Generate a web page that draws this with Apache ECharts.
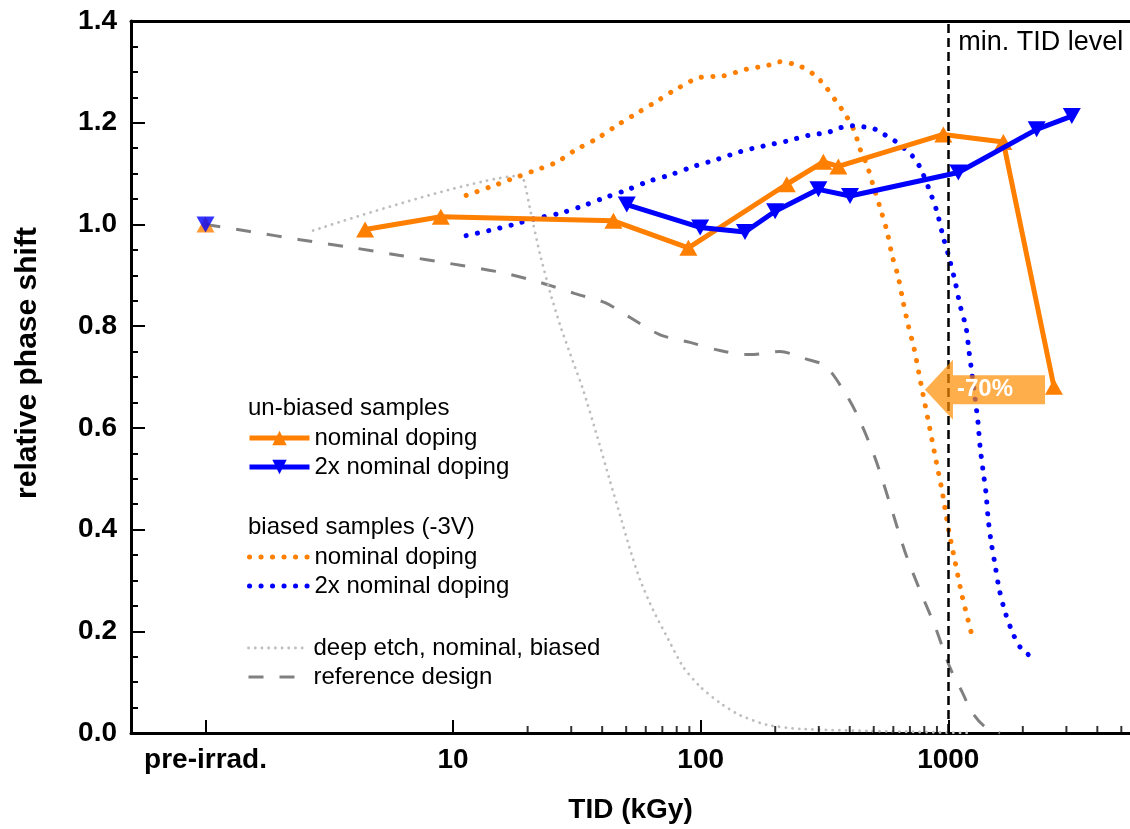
<!DOCTYPE html>
<html>
<head>
<meta charset="utf-8">
<script src="https://cdn.jsdelivr.net/npm/echarts@6/dist/echarts.min.js"></script>
<style>
  html, body { margin: 0; padding: 0; background: #fff; }
  #chart { width: 1130px; height: 829px; }
</style>
</head>
<body>
<div id="chart"></div>
<script>
// ---------------- data ----------------
const preIrradTID = 1; // position of the "pre-irrad." category on the log axis
const xTickValues = [1, 10, 100, 1000];
const xTickLabels = ['pre-irrad.', '10', '100', '1000'];
const xMinorTicks = [20, 30, 40, 50, 60, 70, 80, 90, 200, 300, 400, 500, 600, 700, 800, 900, 2000, 3000, 4000, 5000];

// un-biased samples, nominal doping (orange, up triangles)
const preIrradNominal = 1.0;
const unbiasedNominalX = [4.41, 8.92, 44.4, 89.2, 222.7, 313, 359.7, 955, 1669, 2672];
const unbiasedNominalY = [0.990, 1.015, 1.007, 0.954, 1.079, 1.123, 1.114, 1.177, 1.162, 0.681];

// un-biased samples, 2x nominal doping (blue, down triangles)
const preIrrad2x = 1.0;
const unbiased2xX = [50.3, 99.5, 151, 199.8, 298.9, 401, 1098, 2275, 3154];
const unbiased2xY = [1.039, 0.994, 0.985, 1.026, 1.069, 1.056, 1.102, 1.187, 1.213];

// biased samples (-3V), nominal doping (orange dotted)
const biasedNominalX = [11.29, 13.98, 17.15, 21.04, 26.06, 31.1, 38.15, 45.96, 55.87, 67.3, 81.0, 99.4, 123.1, 152.5, 187.2, 207.4, 252, 289.7, 318, 352.3, 383, 416.5, 440.5, 470, 497, 530.4, 566, 593, 627, 656.9, 688, 727.7, 776.6, 828.7, 884.6, 943.7, 998, 1065, 1137, 1236];
const biasedNominalY = [1.057, 1.073, 1.089, 1.105, 1.122, 1.146, 1.169, 1.195, 1.220, 1.244, 1.268, 1.289, 1.292, 1.305, 1.313, 1.320, 1.311, 1.293, 1.272, 1.242, 1.217, 1.185, 1.148, 1.116, 1.077, 1.033, 0.986, 0.939, 0.898, 0.848, 0.803, 0.756, 0.685, 0.616, 0.545, 0.476, 0.406, 0.337, 0.270, 0.199];

// biased samples (-3V), 2x nominal doping (blue dotted)
const biased2xX = [11.29, 13.98, 17.31, 21.64, 27.05, 33.19, 40.73, 50.43, 61.89, 75.94, 94.93, 116.5, 144.2, 178.6, 223.4, 271.6, 326.9, 365.6, 408.8, 452.8, 501.6, 550.5, 609.8, 669.2, 720.9, 769.3, 836.6, 901.3, 952.8, 1007.6, 1065.4, 1116, 1180, 1213, 1248, 1283, 1319, 1344, 1382, 1421, 1448, 1489, 1545, 1604, 1696, 1827, 1950, 2062, 2200];
const biased2xY = [0.978, 0.988, 0.999, 1.012, 1.022, 1.036, 1.052, 1.068, 1.085, 1.098, 1.115, 1.128, 1.143, 1.154, 1.164, 1.175, 1.181, 1.190, 1.194, 1.192, 1.188, 1.177, 1.164, 1.148, 1.133, 1.112, 1.069, 1.024, 0.976, 0.935, 0.888, 0.841, 0.797, 0.750, 0.705, 0.658, 0.610, 0.563, 0.516, 0.471, 0.423, 0.376, 0.331, 0.284, 0.238, 0.195, 0.169, 0.158, 0.146];

// deep etch, nominal, biased (light grey dotted)
const deepEtchX = [2.72, 18.8, 19.54, 20.5, 22.45, 24.6, 27.0, 30.5, 33.5, 38.2, 43.1, 47.2, 51.9, 56.9, 64.2, 73.1, 84.9, 99.5, 119.7, 144, 185, 252, 483, 1225];
const deepEtchY = [0.988, 1.096, 1.077, 1.028, 0.941, 0.868, 0.803, 0.730, 0.675, 0.583, 0.494, 0.429, 0.360, 0.301, 0.242, 0.189, 0.130, 0.091, 0.059, 0.035, 0.016, 0.008, 0.004, 0.0];

// reference design (grey dashed)
const referenceX = [1.0, 1.51, 2.41, 3.84, 6.11, 9.72, 15.5, 22.4, 31.1, 41.1, 51.9, 68.6, 90.6, 119.7, 158, 209, 264, 318, 376, 432, 506, 582, 669, 769, 885, 1017, 1137, 1248, 1408, 1619];
const referenceY = [1.0, 0.986, 0.970, 0.955, 0.939, 0.923, 0.906, 0.886, 0.864, 0.846, 0.817, 0.783, 0.768, 0.752, 0.744, 0.750, 0.736, 0.722, 0.675, 0.622, 0.541, 0.450, 0.356, 0.280, 0.209, 0.128, 0.081, 0.041, 0.012, 0.0];

// annotations
const minTIDLevel = 1000;
const minTIDText = 'min. TID level';
const arrowTipTID = 805, arrowTailTID = 2460, arrowValue = 0.675;
const arrowText = '-70%';

// ---------------- chart ----------------
const FONT = "'Liberation Sans', Arial, Helvetica, sans-serif";
const ORANGE = '#FF7F00', BLUE = '#0000FF';
const zip = (xs, ys) => xs.map((x, i) => [x, ys[i]]);
const displayName = {
  'unb_nom': 'nominal doping',
  'unb_2x': '2x nominal doping',
  'b_nom': 'nominal doping',
  'b_2x': '2x nominal doping',
  'deep': 'deep etch, nominal, biased',
  'ref': 'reference design'
};
const legendCommon = {
  orient: 'vertical', left: 247, padding: 0, itemWidth: 60, itemHeight: 18, itemGap: 5,
  selectedMode: false,
  formatter: n => displayName[n],
  textStyle: { fontSize: 24, color: '#000', fontFamily: FONT },
  lineStyle: { width: 'inherit' }
};
const noSymbol = name => ({ name: name, itemStyle: { opacity: 0 } });

const chart = echarts.init(document.getElementById('chart'), null, { renderer: 'canvas' });
const xMin = 0.5, xMax = 5420;
const option = {
  animation: false,
  backgroundColor: '#fff',
  grid: { left: 131, right: 0, top: 21, bottom: 96, containLabel: false, outerBoundsMode: 'none' },
  legend: [
    Object.assign({}, legendCommon, { top: 426, data: ['unb_nom', 'unb_2x'] }),
    Object.assign({}, legendCommon, { top: 545, data: [noSymbol('b_nom'), noSymbol('b_2x')] }),
    Object.assign({}, legendCommon, { top: 636, data: [noSymbol('deep'), noSymbol('ref')] })
  ],
  xAxis: [{
    type: 'log', logBase: 10, min: xMin, max: xMax,
    name: 'TID (kGy)', nameLocation: 'middle', nameGap: 63,
    nameTextStyle: { fontSize: 28, fontWeight: 'bold', color: '#000', fontFamily: FONT },
    axisLine: { show: true, lineStyle: { color: '#000', width: 3 } },
    axisTick: { show: true, inside: true, length: 13, lineStyle: { color: '#000', width: 2 } },
    minorTick: { show: false },
    splitLine: { show: false },
    axisLabel: {
      fontSize: 28, fontWeight: 'bold', color: '#000', fontFamily: FONT, margin: 13,
      showMinLabel: false, showMaxLabel: false,
      formatter: v => {
        for (let i = 0; i < xTickValues.length; i++) {
          if (Math.abs(v - xTickValues[i]) < 1e-6 * xTickValues[i]) return xTickLabels[i];
        }
        return '';
      }
    }
  }, {
    type: 'log', logBase: 10, min: xMin, max: xMax, position: 'top',
    axisLine: { show: true, lineStyle: { color: '#000', width: 3 } },
    axisTick: { show: false }, axisLabel: { show: false }, splitLine: { show: false }
  }],
  yAxis: {
    type: 'value', min: 0, max: 1.4, interval: 0.2,
    name: 'relative phase shift', nameLocation: 'middle', nameGap: 88,
    nameTextStyle: { fontSize: 30, fontWeight: 'bold', color: '#000', fontFamily: FONT, padding: [0, 0, 0, 28] },
    axisLine: { show: true, lineStyle: { color: '#000', width: 3 } },
    axisTick: { show: true, inside: true, length: 14, lineStyle: { color: '#000', width: 2 } },
    minorTick: { show: true, splitNumber: 4, length: 7, lineStyle: { color: '#000', width: 2 } },
    splitLine: { show: false },
    axisLabel: {
      fontSize: 28, fontWeight: 'bold', color: '#000', fontFamily: FONT, margin: 14,
      formatter: v => v.toFixed(1)
    }
  },
  series: [
    {
      name: 'ref', type: 'line', data: zip(referenceX, referenceY), symbol: 'none', smooth: 0.3,
      lineStyle: { color: '#808080', width: 3, type: [15, 16] }, itemStyle: { color: '#808080' }, z: 2,
      markLine: {
        silent: true, symbol: 'none', animation: false,
        label: { show: false },
        lineStyle: { color: '#000', width: 2.5, type: [9, 5] },
        data: [{ xAxis: minTIDLevel }]
      }
    },
    {
      name: 'deep', type: 'line', data: zip(deepEtchX, deepEtchY), symbol: 'none', smooth: 0.2,
      lineStyle: { color: '#BEBEBE', width: 2.8, type: [0.1, 6.6], cap: 'round' }, itemStyle: { color: '#BEBEBE' }, z: 2
    },
    {
      name: 'b_nom', type: 'line', data: zip(biasedNominalX, biasedNominalY), symbol: 'none', smooth: 0.3,
      lineStyle: { color: ORANGE, width: 5, type: [0.1, 11.4], cap: 'round' }, itemStyle: { color: ORANGE }, z: 3
    },
    {
      name: 'b_2x', type: 'line', data: zip(biased2xX, biased2xY), symbol: 'none', smooth: 0.3,
      lineStyle: { color: BLUE, width: 5, type: [0.1, 11.4], cap: 'round' }, itemStyle: { color: BLUE }, z: 3
    },
    {
      name: 'unb_nom', type: 'line', data: zip(unbiasedNominalX, unbiasedNominalY),
      symbol: 'triangle', symbolSize: [18, 16], showAllSymbol: true,
      lineStyle: { color: ORANGE, width: 5 }, itemStyle: { color: ORANGE }, z: 4
    },
    {
      name: 'unb_2x', type: 'line', data: zip(unbiased2xX, unbiased2xY),
      symbol: 'triangle', symbolRotate: 180, symbolSize: [18, 16], showAllSymbol: true,
      lineStyle: { color: BLUE, width: 5 }, itemStyle: { color: BLUE }, z: 5
    },
    {
      name: 'pre_nom', type: 'scatter', data: [[preIrradTID, preIrradNominal]],
      symbol: 'triangle', symbolSize: [18, 16], itemStyle: { color: ORANGE }, z: 4
    },
    {
      name: 'pre_2x', type: 'scatter', data: [[preIrradTID, preIrrad2x]],
      symbol: 'triangle', symbolRotate: 180, symbolSize: [18, 16], itemStyle: { color: BLUE }, z: 5
    },
    {
      name: 'minorTicks', type: 'scatter', data: xMinorTicks.map(v => [v, 0]),
      symbol: 'rect', symbolSize: [2, 7], symbolOffset: [0, -3.5], clip: false, silent: true,
      itemStyle: { color: '#000' }, z: 10
    }
  ]
};
chart.setOption(option);

// annotations anchored to data coordinates
const finder = { xAxisIndex: 0, yAxisIndex: 0 };
const tipPx = chart.convertToPixel(finder, [arrowTipTID, arrowValue]);
const tailPx = chart.convertToPixel(finder, [arrowTailTID, arrowValue]);
const linePx = chart.convertToPixel(finder, [minTIDLevel, 1.4]);
const headLen = 28, headHalf = 30, bodyHalf = 14.5;
chart.setOption({
  graphic: [
    {
      type: 'polygon', z: 100,
      shape: { points: [
        [tipPx[0], tipPx[1]],
        [tipPx[0] + headLen, tipPx[1] - headHalf],
        [tipPx[0] + headLen, tipPx[1] - bodyHalf],
        [tailPx[0], tailPx[1] - bodyHalf],
        [tailPx[0], tailPx[1] + bodyHalf],
        [tipPx[0] + headLen, tipPx[1] + bodyHalf],
        [tipPx[0] + headLen, tipPx[1] + headHalf]
      ] },
      style: { fill: 'rgba(255,140,0,0.7)' }
    },
    {
      type: 'text', z: 101, x: tipPx[0] + 60, y: tipPx[1],
      style: { text: arrowText, fill: '#fff', font: "bold 24px 'Liberation Sans', Arial, sans-serif",
               textAlign: 'center', textVerticalAlign: 'middle' }
    },
    {
      type: 'text', z: 101, x: linePx[0] + 10, y: linePx[1] + 22,
      style: { text: minTIDText, fill: '#000', font: "27px 'Liberation Sans', Arial, sans-serif",
               textAlign: 'left', textVerticalAlign: 'middle' }
    },
    {
      type: 'text', z: 101, x: 248, y: 408,
      style: { text: 'un-biased samples', fill: '#000', font: "24px 'Liberation Sans', Arial, sans-serif",
               textAlign: 'left', textVerticalAlign: 'middle' }
    },
    {
      type: 'text', z: 101, x: 248, y: 527,
      style: { text: 'biased samples (-3V)', fill: '#000', font: "24px 'Liberation Sans', Arial, sans-serif",
               textAlign: 'left', textVerticalAlign: 'middle' }
    }
  ]
});
</script>
</body>
</html>
